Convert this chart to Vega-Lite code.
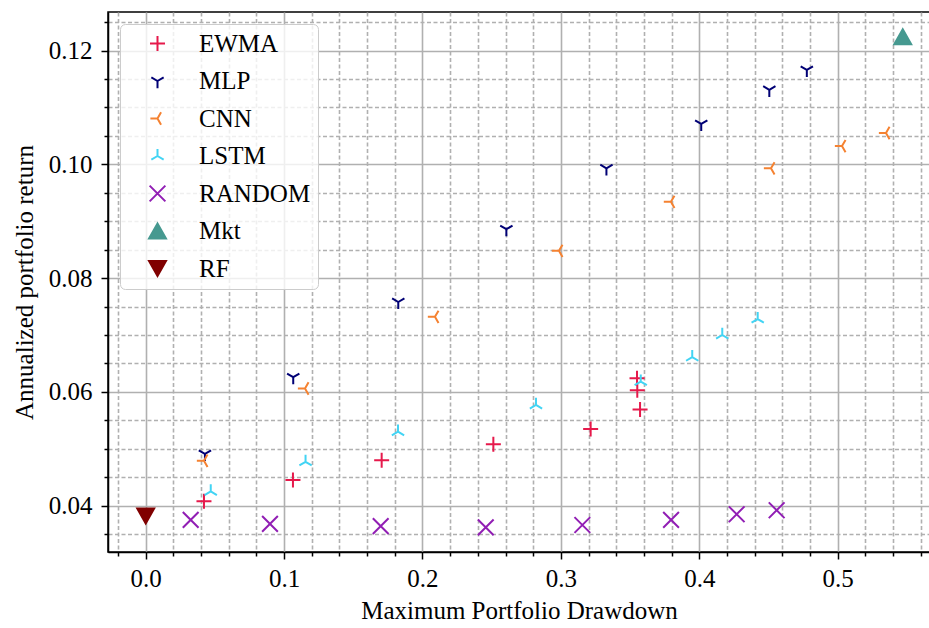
{
  "$schema": "https://vega.github.io/schema/vega-lite/v6.json",
  "width": 822,
  "height": 540,
  "autosize": {"type": "none"},
  "padding": {"left": 108, "top": 12, "right": 0, "bottom": 76},
  "config": {
    "font": "Liberation Serif",
    "view": {"stroke": "black", "strokeWidth": 1.5},
    "style": {
      "guide-label": {"font": "Liberation Serif", "fill": "black"},
      "guide-title": {"font": "Liberation Serif", "fill": "black"}
    },
    "axis": {
      "grid": true,
      "gridColor": "#b0b0b0",
      "gridWidth": 1.6,
      "tickColor": "black",
      "tickWidth": 1.5,
      "domainColor": "black",
      "domainWidth": 1.5,
      "labelColor": "black",
      "labelFont": "Liberation Serif",
      "labelFontSize": 25,
      "titleFont": "Liberation Serif",
      "titleFontSize": 25,
      "titleFontWeight": "normal",
      "titleColor": "black",
      "labelFlush": false,
      "labelOverlap": false,
      "labelBound": false
    }
  },
  "data": {
    "values": [
      {"series": "EWMA", "drawdown": 0.0421, "ret": 0.0408},
      {"series": "EWMA", "drawdown": 0.1064, "ret": 0.0445},
      {"series": "EWMA", "drawdown": 0.1705, "ret": 0.0480},
      {"series": "EWMA", "drawdown": 0.2512, "ret": 0.0508},
      {"series": "EWMA", "drawdown": 0.3215, "ret": 0.0535},
      {"series": "EWMA", "drawdown": 0.3550, "ret": 0.0624},
      {"series": "EWMA", "drawdown": 0.3552, "ret": 0.0603},
      {"series": "EWMA", "drawdown": 0.3572, "ret": 0.0569},
      {"series": "MLP", "drawdown": 0.0428, "ret": 0.0491},
      {"series": "MLP", "drawdown": 0.1066, "ret": 0.0626},
      {"series": "MLP", "drawdown": 0.1825, "ret": 0.0758},
      {"series": "MLP", "drawdown": 0.2606, "ret": 0.0886},
      {"series": "MLP", "drawdown": 0.3329, "ret": 0.0993},
      {"series": "MLP", "drawdown": 0.4014, "ret": 0.1071},
      {"series": "MLP", "drawdown": 0.4506, "ret": 0.1131},
      {"series": "MLP", "drawdown": 0.4777, "ret": 0.1166},
      {"series": "CNN", "drawdown": 0.0421, "ret": 0.0479},
      {"series": "CNN", "drawdown": 0.1151, "ret": 0.0606},
      {"series": "CNN", "drawdown": 0.2090, "ret": 0.0732},
      {"series": "CNN", "drawdown": 0.2986, "ret": 0.0848},
      {"series": "CNN", "drawdown": 0.3795, "ret": 0.0934},
      {"series": "CNN", "drawdown": 0.4518, "ret": 0.0993},
      {"series": "CNN", "drawdown": 0.5031, "ret": 0.1032},
      {"series": "CNN", "drawdown": 0.5349, "ret": 0.1055},
      {"series": "LSTM", "drawdown": 0.0470, "ret": 0.0425},
      {"series": "LSTM", "drawdown": 0.1155, "ret": 0.0477},
      {"series": "LSTM", "drawdown": 0.1823, "ret": 0.0530},
      {"series": "LSTM", "drawdown": 0.2820, "ret": 0.0577},
      {"series": "LSTM", "drawdown": 0.3577, "ret": 0.0618},
      {"series": "LSTM", "drawdown": 0.3949, "ret": 0.0661},
      {"series": "LSTM", "drawdown": 0.4166, "ret": 0.0700},
      {"series": "LSTM", "drawdown": 0.4422, "ret": 0.0728},
      {"series": "RANDOM", "drawdown": 0.0325, "ret": 0.0375},
      {"series": "RANDOM", "drawdown": 0.0898, "ret": 0.0368},
      {"series": "RANDOM", "drawdown": 0.1698, "ret": 0.0364},
      {"series": "RANDOM", "drawdown": 0.2457, "ret": 0.0362},
      {"series": "RANDOM", "drawdown": 0.3155, "ret": 0.0366},
      {"series": "RANDOM", "drawdown": 0.3796, "ret": 0.0375},
      {"series": "RANDOM", "drawdown": 0.4270, "ret": 0.0385},
      {"series": "RANDOM", "drawdown": 0.4559, "ret": 0.0392},
      {"series": "Mkt", "drawdown": 0.5470, "ret": 0.1224},
      {"series": "RF", "drawdown": 0.0, "ret": 0.0382}
    ]
  },
  "mark": {"type": "point", "filled": false, "opacity": 1, "strokeWidth": 2, "size": 225},
  "encoding": {
    "x": {
      "field": "drawdown",
      "type": "quantitative",
      "scale": {"domain": [-0.02724, 0.5667], "nice": false, "zero": false},
      "axis": {
        "title": "Maximum Portfolio Drawdown",
        "labelFont": "Liberation Serif",
        "titleFont": "Liberation Serif",
        "values": [-0.02, 0, 0.02, 0.04, 0.06, 0.08, 0.1, 0.12, 0.14, 0.16, 0.18, 0.2, 0.22, 0.24, 0.26, 0.28, 0.3, 0.32, 0.34, 0.36, 0.38, 0.4, 0.42, 0.44, 0.46, 0.48, 0.5, 0.52, 0.54, 0.56],
        "format": ".1f",
        "labelExpr": "abs(datum.value*10 - round(datum.value*10)) < 0.001 ? datum.label : ''",
        "gridDash": {"condition": {"test": "abs(datum.value*10 - round(datum.value*10)) < 0.001", "value": []}, "value": [4, 2.5]},
        "tickSize": {"condition": {"test": "abs(datum.value*10 - round(datum.value*10)) < 0.001", "value": 7}, "value": 4},
        "labelPadding": 7,
        "titlePadding": 7
      }
    },
    "y": {
      "field": "ret",
      "type": "quantitative",
      "scale": {"domain": [0.03186, 0.12677], "nice": false, "zero": false},
      "axis": {
        "title": "Annualized portfolio return",
        "labelFont": "Liberation Serif",
        "titleFont": "Liberation Serif",
        "values": [0.035, 0.04, 0.045, 0.05, 0.055, 0.06, 0.065, 0.07, 0.075, 0.08, 0.085, 0.09, 0.095, 0.1, 0.105, 0.11, 0.115, 0.12, 0.125],
        "format": ".2f",
        "labelExpr": "abs(datum.value*50 - round(datum.value*50)) < 0.001 ? datum.label : ''",
        "gridDash": {"condition": {"test": "abs(datum.value*50 - round(datum.value*50)) < 0.001", "value": []}, "value": [4, 2.5]},
        "tickSize": {"condition": {"test": "abs(datum.value*50 - round(datum.value*50)) < 0.001", "value": 7}, "value": 4},
        "labelPadding": 9,
        "titlePadding": 11
      }
    },
    "shape": {
      "field": "series",
      "type": "nominal",
      "sort": null,
      "scale": {
        "domain": ["EWMA", "MLP", "CNN", "LSTM", "RANDOM", "Mkt", "RF"],
        "range": [
          "M-1,0L1,0M0,-1L0,1",
          "M0,0L0,0.95M0,0L-0.82,-0.475M0,0L0.82,-0.475",
          "M0,0L-0.95,0M0,0L0.475,-0.82M0,0L0.475,0.82",
          "M0,0L0,-0.95M0,0L-0.82,0.475M0,0L0.82,0.475",
          "M-1.05,-1.05L1.05,1.05M-1.05,1.05L1.05,-1.05",
          "M0,-1L1.13,1L-1.13,1Z",
          "M0,1L1.13,-1L-1.13,-1Z"
        ]
      },
      "legend": {
        "title": null,
        "orient": "none",
        "legendX": 12,
        "legendY": 12,
        "labelFontSize": 25,
        "labelFont": "Liberation Serif",
        "labelColor": "black",
        "symbolSize": 225,
        "symbolStrokeWidth": 2,
        "symbolOffset": 18,
        "labelOffset": 29,
        "rowPadding": 11.5,
        "padding": 7,
        "strokeColor": "#cccccc",
        "fillColor": "rgba(255,255,255,0.8)",
        "cornerRadius": 5
      }
    },
    "stroke": {
      "field": "series",
      "type": "nominal",
      "sort": null,
      "scale": {
        "domain": ["EWMA", "MLP", "CNN", "LSTM", "RANDOM", "Mkt", "RF"],
        "range": ["#e6194B", "#000075", "#f58231", "#42d4f4", "#911eb4", "#469990", "#800000"]
      },
      "legend": {"title": null}
    },
    "fill": {
      "field": "series",
      "type": "nominal",
      "sort": null,
      "scale": {
        "domain": ["EWMA", "MLP", "CNN", "LSTM", "RANDOM", "Mkt", "RF"],
        "range": ["transparent", "transparent", "transparent", "transparent", "transparent", "#469990", "#800000"]
      },
      "legend": {"title": null}
    }
  }
}
